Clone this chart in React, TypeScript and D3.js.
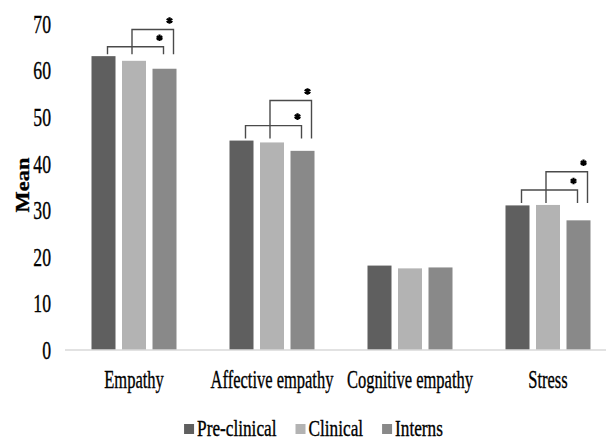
import { useEffect, useRef } from 'react';
import * as d3 from 'd3';

const categories = ['Empathy', 'Affective empathy', 'Cognitive empathy', 'Stress'];
const seriesNames = ['Pre-clinical', 'Clinical', 'Interns'];
const preClinical = [63.0, 44.9, 18.1, 31.0];
const clinical = [62.0, 44.5, 17.5, 31.1];
const interns = [60.3, 42.7, 17.7, 27.8];
const yTicks = [0, 10, 20, 30, 40, 50, 60, 70];
// significance bracket heights (in "Mean" units), null = no bracket
const sigLower = [65.0, 48.1, null, 34.3];
const sigUpper = [68.7, 53.5, null, 38.2];

const colors = ['#5f5f5f', '#b3b3b3', '#898989'];
const FONT = "'Liberation Serif', 'Times New Roman', 'DejaVu Serif', serif";

export default function App() {
  const svgRef = useRef<SVGSVGElement>(null);
  const width = 606, height = 441;

  useEffect(() => {
    if (!svgRef.current) return;
    const svg = d3.select(svgRef.current);
    svg.selectAll('*').remove();

    const series = [preClinical, clinical, interns];
    const x = d3.scaleBand().domain(categories).range([65, 617]).paddingInner(0.384).paddingOuter(0.192);
    const xs = d3.scaleBand().domain(seriesNames).range([0, x.bandwidth()]).paddingInner(0.213);
    const y = d3.scaleLinear().domain([0, 70]).range([350, 23.5]);

    // bars
    categories.forEach((c, ci) => {
      seriesNames.forEach((s, si) => {
        const v = series[si][ci];
        svg.append('rect')
          .attr('x', x(c)! + xs(s)!)
          .attr('y', y(v))
          .attr('width', xs.bandwidth())
          .attr('height', y(0) - y(v))
          .attr('fill', colors[si]);
      });
    });

    // baseline
    svg.append('line')
      .attr('x1', 65).attr('x2', width)
      .attr('y1', y(0)).attr('y2', y(0))
      .attr('stroke', '#d9d9d9').attr('stroke-width', 1.5);

    const txt = (sel: any) => sel.style('font-family', FONT).attr('fill', '#000')
      .attr('stroke', '#000').attr('stroke-width', 0.35);

    // y tick labels
    yTicks.forEach((t) => {
      svg.append('g').attr('transform', `translate(51,${y(t)})`)
        .append('text')
        .attr('transform', 'scale(0.68,1)')
        .attr('text-anchor', 'end').attr('dy', '0.35em')
        .style('font-size', '26px')
        .call(txt)
        .text(t);
    });

    // axis title
    svg.append('g').attr('transform', 'translate(29,185) rotate(-90)')
      .append('text')
      .attr('transform', 'scale(1.15,1)')
      .attr('text-anchor', 'middle')
      .style('font-size', '19.5px').style('font-weight', 700)
      .call(txt)
      .text('Mean');

    // category labels
    categories.forEach((c) => {
      svg.append('g').attr('transform', `translate(${x(c)! + x.bandwidth() / 2},388)`)
        .append('text')
        .attr('transform', 'scale(0.66,1)')
        .attr('text-anchor', 'middle')
        .style('font-size', '25px')
        .call(txt)
        .text(c);
    });

    // significance brackets
    const bk = svg.append('g').attr('fill', 'none').attr('stroke', '#4a4a4a').attr('stroke-width', 1.4);
    categories.forEach((c, ci) => {
      const lo = sigLower[ci], hi = sigUpper[ci];
      if (lo == null || hi == null) return;
      const cx = (s: string) => x(c)! + xs(s)! + xs.bandwidth() / 2;
      const top = y(d3.max(series, (d) => d[ci])!) - 2;
      const yl = y(lo), yh = y(hi);
      const l1 = cx('Pre-clinical') + 4, r1 = cx('Interns') - 1;
      const l2 = cx('Clinical') - 2, r2 = cx('Interns') + 9;
      bk.append('path').attr('d', `M${l1},${top}V${yl}H${r1}V${top}`);
      bk.append('path').attr('d', `M${l2},${Math.min(top, yl + 20)}V${yh}H${r2}V${top}`);
      [[r1, yl], [r2, yh]].forEach(([sx, sy]) => {
        svg.append('path')
          .attr('transform', `translate(${sx - 4},${sy - 9})`)
          .attr('d', d3.symbol(d3.symbolAsterisk, 30)()!)
          .attr('fill', 'none').attr('stroke', '#000').attr('stroke-width', 2.2);
      });
    });

    // legend
    const sxL = 0.75;
    const lg = svg.append('g');
    let cursor = 0;
    seriesNames.forEach((s, si) => {
      const item = lg.append('g').attr('transform', `translate(${cursor},0)`);
      item.append('rect').attr('x', 0).attr('y', -12).attr('width', 10).attr('height', 10).attr('fill', colors[si]);
      const t = item.append('g').attr('transform', 'translate(13,0)')
        .append('text')
        .attr('transform', `scale(${sxL},1)`)
        .style('font-size', '23px')
        .call(txt)
        .text(s);
      const w = (t.node() as SVGTextElement).getComputedTextLength() * sxL;
      cursor += 13 + w + 19;
    });
    const total = cursor - 19;
    lg.attr('transform', `translate(${313.5 - total / 2},436)`);
  }, []);

  return (
    <svg ref={svgRef} width={width} height={height}
      style={{ position: 'absolute', left: 0, top: 0, background: '#fff' }} />
  );
}
